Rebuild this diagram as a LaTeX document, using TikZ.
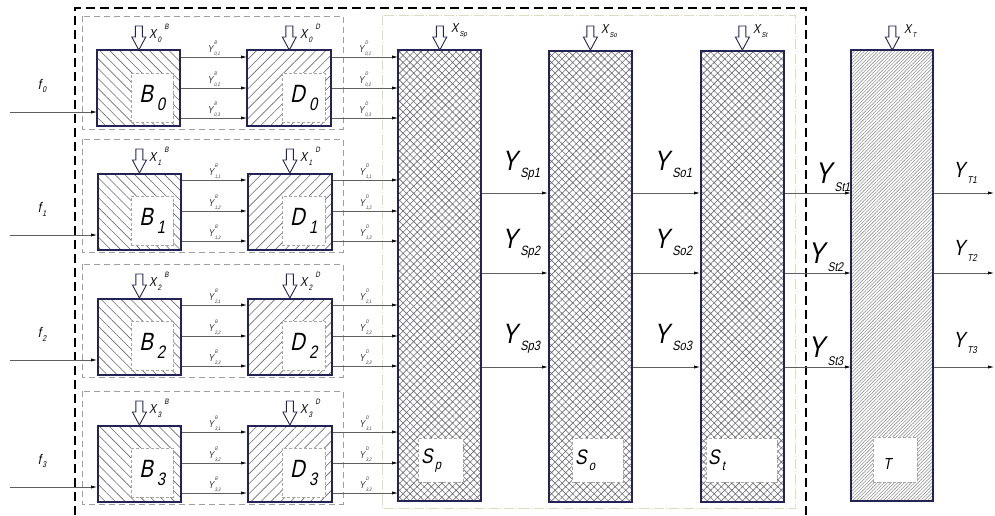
\documentclass[tikz,border=0pt]{standalone}
\usepackage{fontspec}
\setmainfont{Liberation Sans}
\newfontfamily\gost{Liberation Sans}[FakeSlant=0.2, FakeStretch=0.82]
\usetikzlibrary{patterns.meta,arrows.meta,calc}
\definecolor{navy}{RGB}{35,35,85}
\definecolor{cline}{RGB}{95,95,95}
\definecolor{hatch}{RGB}{105,105,115}
\definecolor{beige}{RGB}{222,220,192}
\newcommand\msub[3]{#1\kern0.1em\raisebox{-0.28em}{\scalebox{#3}{#2}}}
\newcommand\mbsub[2]{#1\kern0.16em\raisebox{-0.3em}{\scalebox{0.72}{#2}}}
\newcommand\msubsup[4]{#1\kern0.1em\rlap{\raisebox{0.8em}{\scalebox{#4}{#3}}}\raisebox{-0.3em}{\scalebox{#4}{#2}}}
\newcommand\mxlab[3]{#1\kern0.1em\raisebox{-0.28em}{\scalebox{0.6}{#2}}\kern0.25em\raisebox{0.7em}{\scalebox{0.6}{#3}}}
\begin{document}
\begin{tikzpicture}[x=1pt,y=-1pt,
  blk/.style={draw=navy, line width=1.8pt, rectangle, inner sep=0pt, anchor=north west},
  bpat/.style={blk, minimum width=83pt, minimum height=76pt,
    pattern={Lines[angle=-45,distance=7pt,line width=0.6pt]}, pattern color=hatch},
  dpat/.style={blk, minimum width=84pt, minimum height=76pt,
    pattern={Lines[angle=45,distance=7pt,line width=0.6pt]}, pattern color=hatch},
  spat/.style={blk, minimum width=83pt, minimum height=451pt,
    pattern={Hatch[angle=45,distance=5pt,line width=0.6pt]}, pattern color=hatch},
  tpat/.style={blk, minimum width=82pt, minimum height=451pt,
    pattern={Lines[angle=45,distance=2.4pt,line width=0.6pt]}, pattern color=gray!85},
  inbox/.style={draw=gray!70, densely dashed, line width=0.5pt, fill=white, inner sep=0pt, anchor=north west},
  conn/.style={draw=cline, line width=0.7pt, -{Latex[length=6pt,width=3.2pt,color=black]}},
  grpbox/.style={draw=gray!75, line width=0.9pt, dash pattern=on 6pt off 4pt},
  bigbox/.style={draw=black, line width=2.2pt, dash pattern=on 9pt off 5pt},
  sbox/.style={draw=beige, line width=0.9pt, dash pattern=on 10pt off 2pt on 1pt off 2pt},
  smallY/.style={font=\fontsize{10}{10}\gost, inner sep=1pt, text=black!80},
  xlab/.style={font=\fontsize{13}{13}\gost, inner sep=0pt, anchor=west},
  flab/.style={font=\fontsize{14}{14}\gost, inner sep=0pt},
  blab/.style={font=\fontsize{25}{25}\gost},
  bigY/.style={font=\fontsize{28}{28}\gost, inner sep=0pt, anchor=base west},
  stY/.style={font=\fontsize{30}{30}\gost, inner sep=0pt, anchor=base west},
  tY/.style={font=\fontsize{22}{22}\gost, inner sep=0pt, anchor=base west},
  slab/.style={font=\fontsize{21}{21}\gost, anchor=west, inner sep=0pt},
  xin/.pic={\draw[navy, line width=0.9pt, fill=white, line join=miter]
    (-3.5,-24) -- (3.5,-24) -- (3.5,-13) -- (7,-13) -- (0,0) -- (-7,-13) -- (-3.5,-13) -- cycle;}
]
\useasboundingbox (0,0) rectangle (995,515);
% frames
\draw[bigbox] (75,515) -- (75,8) -- (806,8) -- (806,515);
\draw[sbox] (382,15) rectangle (795,508);
% S and T blocks
\node[spat] (Sp) at (398,50) {};
\node[spat] (So) at (548,50) {};
\node[spat] (St) at (700,50) {};
\node[tpat] (T) at (851,50) {};
\node[inbox, minimum width=45pt, minimum height=44pt] (SpI) at (418,438) {};
\node[inbox, minimum width=51pt, minimum height=44pt] (SoI) at (572,438) {};
\node[inbox, minimum width=71pt, minimum height=44pt] (StI) at (706,438) {};
\node[inbox, minimum width=44pt, minimum height=45pt] (TI) at (873,437) {};
\node[slab] (SpL) at ([xshift=3pt]SpI.west) {\msub{S}{p}{0.65}};
\node[slab] (SoL) at ([xshift=3pt]SoI.west) {\msub{S}{o}{0.65}};
\node[slab] (StL) at ([xshift=2pt]StI.west) {\msub{S}{t}{0.65}};
\node[font=\fontsize{16}{16}\gost, inner sep=0pt] (TL) at ([xshift=-8pt,yshift=-4pt]TI.center) {T};
% X inputs of S and T
\pic at (Sp.north) {xin};
\pic at (So.north) {xin};
\pic at (St.north) {xin};
\pic at (T.north) {xin};
\node[xlab] (xsp) at (451,31) {\msub{X}{Sp}{0.55}};
\node[xlab] (xso) at (601,31) {\msub{X}{So}{0.55}};
\node[xlab] (xst) at (753,31) {\msub{X}{St}{0.55}};
\node[xlab] (xt) at (904,31) {\msub{X}{T}{0.55}};
% rows between S blocks
\coordinate (r1) at (0,193);
\coordinate (r2) at (0,273);
\coordinate (r3) at (0,367);
\foreach \r in {1,2,3} {
  \draw[conn] (Sp.east |- r\r) -- (So.west |- r\r);
  \draw[conn] (So.east |- r\r) -- (St.west |- r\r);
  \draw[conn] (St.east |- r\r) -- (T.west |- r\r);
  \coordinate (o\r) at (994,0);
  \draw[conn] (T.east |- r\r) -- (o\r |- r\r);
}
\node[bigY] (ysp1) at (502,170) {\msub{Y}{Sp1}{0.48}};
\node[bigY] (ysp2) at (502,248) {\msub{Y}{Sp2}{0.48}};
\node[bigY] (ysp3) at (502,343) {\msub{Y}{Sp3}{0.48}};
\node[bigY] (yso1) at (654,170) {\msub{Y}{So1}{0.48}};
\node[bigY] (yso2) at (654,248) {\msub{Y}{So2}{0.48}};
\node[bigY] (yso3) at (654,343) {\msub{Y}{So3}{0.48}};
\node[stY] (yst1) at (815,183) {\msub{Y}{St1}{0.42}};
\node[stY] (yst2) at (808,263) {\msub{Y}{St2}{0.42}};
\node[stY] (yst3) at (808,357) {\msub{Y}{St3}{0.42}};
\node[tY] (yt1) at (953,177) {\msub{Y}{T1}{0.45}};
\node[tY] (yt2) at (953,255) {\msub{Y}{T2}{0.45}};
\node[tY] (yt3) at (953,347) {\msub{Y}{T3}{0.45}};
% B / D groups
\foreach \i/\t in {0/50,1/173,2/298,3/425} {
  \draw[grpbox] (82,{\t-34}) rectangle (343,{\t+79});
  \node[bpat] (B\i) at (97,\t) {};
  \node[dpat] (D\i) at (247,\t) {};
  \node[inbox, minimum width=42pt, minimum height=49pt, blab] (BI\i) at (131,{\t+23}) {\mbsub{B}{\i}};
  \node[inbox, minimum width=43pt, minimum height=49pt, blab] (DI\i) at (282,{\t+23}) {\mbsub{D}{\i}};
  \pic at (B\i.north) {xin};
  \pic at (D\i.north) {xin};
  \node[xlab] (xb\i) at (149,{\t-17}) {\mxlab{X}{\i}{B}};
  \node[xlab] (xd\i) at (300,{\t-17}) {\mxlab{X}{\i}{D}};
  \coordinate (f\i) at (10,{\t+62});
  \draw[conn] (f\i) -- (f\i -| B\i.west);
  \node[flab] (fl\i) at (42,{\t+36}) {\msub{f}{\i}{0.6}};
  \foreach \j/\dy in {1/7,2/38,3/68} {
    \coordinate (b\i\j) at ([yshift=-\dy pt]B\i.north east);
    \draw[conn] (b\i\j) -- (b\i\j -| D\i.west) node[midway, above, smallY] {\msubsup{Y}{\i,\j}{B}{0.5}};
    \coordinate (d\i\j) at ([yshift=-\dy pt]D\i.north east);
    \draw[conn] (d\i\j) -- (d\i\j -| Sp.west) node[midway, above, smallY] {\msubsup{Y}{\i,\j}{D}{0.5}};
  }
}
\end{tikzpicture}
\end{document}
